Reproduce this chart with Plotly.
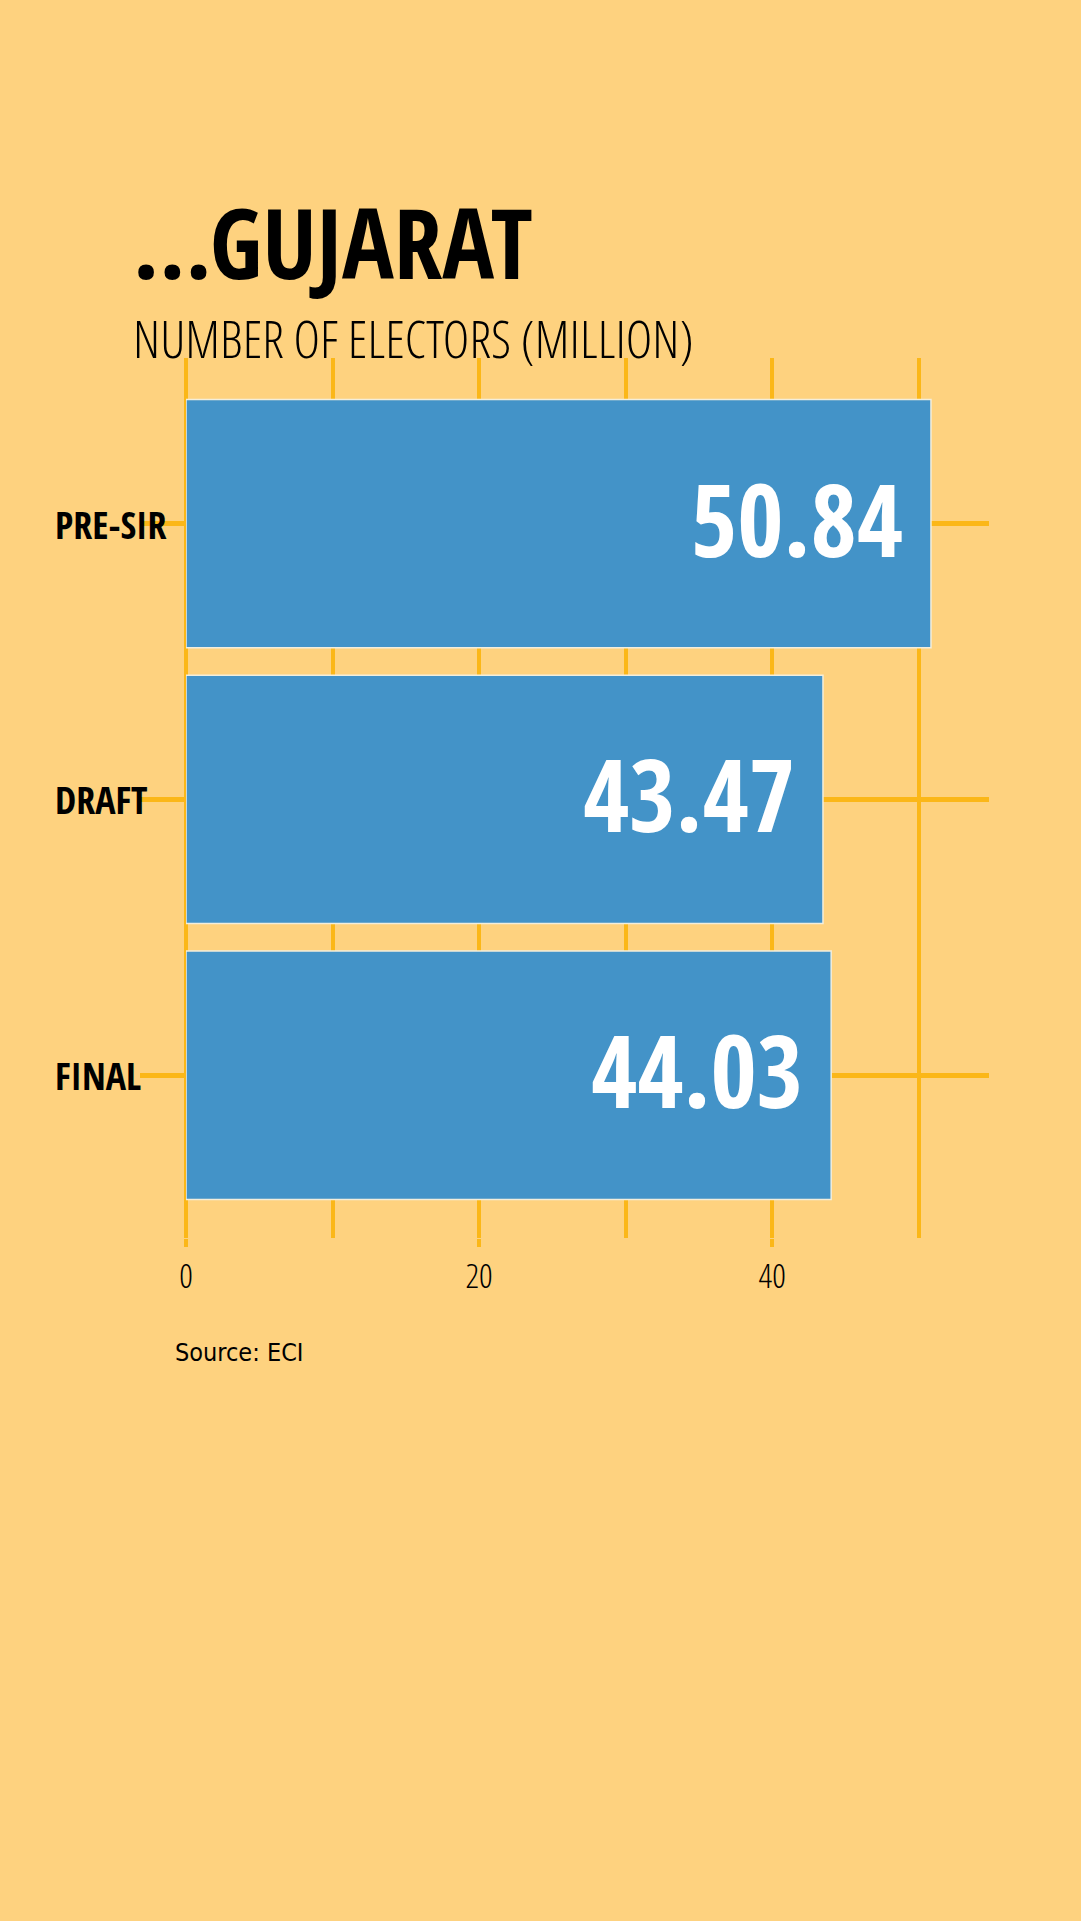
import plotly.graph_objects as go

# data
categories = ["PRE-SIR", "DRAFT", "FINAL"]
electors_million = [50.84, 43.47, 44.03]
x_ticks = [0, 20, 40]
x_tick_labels = ["0", "20", "40"]

title_text = "...GUJARAT"
subtitle_text = "NUMBER OF ELECTORS (MILLION)"
source_text = "Source: ECI"

BG = "#FED27F"
GRID = "#FBB718"
BAR = "#4393C8"
COND = "Open Sans Condensed, DejaVu Sans Condensed, sans-serif"
COND_LIGHT = "Open Sans Condensed Light, Open Sans Condensed, DejaVu Sans Condensed, sans-serif"
NARROW = "DejaVu Sans Condensed, sans-serif"

fig = go.Figure()

fig.add_trace(
    go.Bar(
        x=electors_million,
        y=categories,
        orientation="h",
        marker=dict(color=BAR, line=dict(color="#F3EEDC", width=1.5)),
        hoverinfo="skip",
    )
)

# big value labels inside the bar ends
for cat, val in zip(categories, electors_million):
    fig.add_annotation(
        x=val, y=cat, xref="x", yref="y",
        text=f"<b>{val:.2f}</b>",
        showarrow=False, xanchor="right", yanchor="middle", xshift=-26, yshift=6,
        font=dict(family=COND, size=100, color="white"),
    )

# category labels, left aligned
for cat in categories:
    fig.add_annotation(
        x=-0.166, y=cat, xref="paper", yref="y",
        text=f"<b>{cat}</b>",
        showarrow=False, xanchor="left", yanchor="middle",
        font=dict(family=COND, size=38, color="black"),
    )

fig.add_annotation(
    x=-0.069, y=1.133, xref="paper", yref="paper",
    text=f"<b>{title_text}</b>",
    showarrow=False, xanchor="left", yanchor="middle",
    font=dict(family=COND, size=97, color="black"),
)
fig.add_annotation(
    x=-0.069, y=1.023, xref="paper", yref="paper",
    text=subtitle_text,
    showarrow=False, xanchor="left", yanchor="middle",
    font=dict(family=COND_LIGHT, size=51, color="black"),
)
fig.add_annotation(
    x=-0.016, y=-0.13, xref="paper", yref="paper",
    text=source_text,
    showarrow=False, xanchor="left", yanchor="middle",
    font=dict(family=NARROW, size=25, color="black"),
)

fig.update_layout(
    width=1081,
    height=1921,
    paper_bgcolor=BG,
    plot_bgcolor=BG,
    margin=dict(l=186, r=92, t=358, b=683),
    showlegend=False,
    bargap=0.1,
    xaxis=dict(
        range=[0, 54.8],
        tickvals=x_ticks,
        ticktext=x_tick_labels,
        showgrid=True, gridcolor=GRID, gridwidth=4,
        zeroline=True, zerolinecolor=GRID, zerolinewidth=4,
        ticks="outside", ticklen=8, tickwidth=4, tickcolor=GRID,
        minor=dict(dtick=10, tick0=0, showgrid=True, gridcolor=GRID, gridwidth=4),
        showline=False,
        tickfont=dict(family=COND_LIGHT, size=34, color="black"),
    ),
    yaxis=dict(
        type="category",
        categoryorder="array",
        categoryarray=categories,
        range=[2.59, -0.6],
        showgrid=True, gridcolor=GRID, gridwidth=5,
        ticks="outside", ticklen=45, tickwidth=5, tickcolor=GRID,
        showticklabels=False,
        showline=False,
    ),
)

fig.write_html(
    "out.html",
    config={"displayModeBar": False},
    post_script="document.body.style.margin='0';",
)
